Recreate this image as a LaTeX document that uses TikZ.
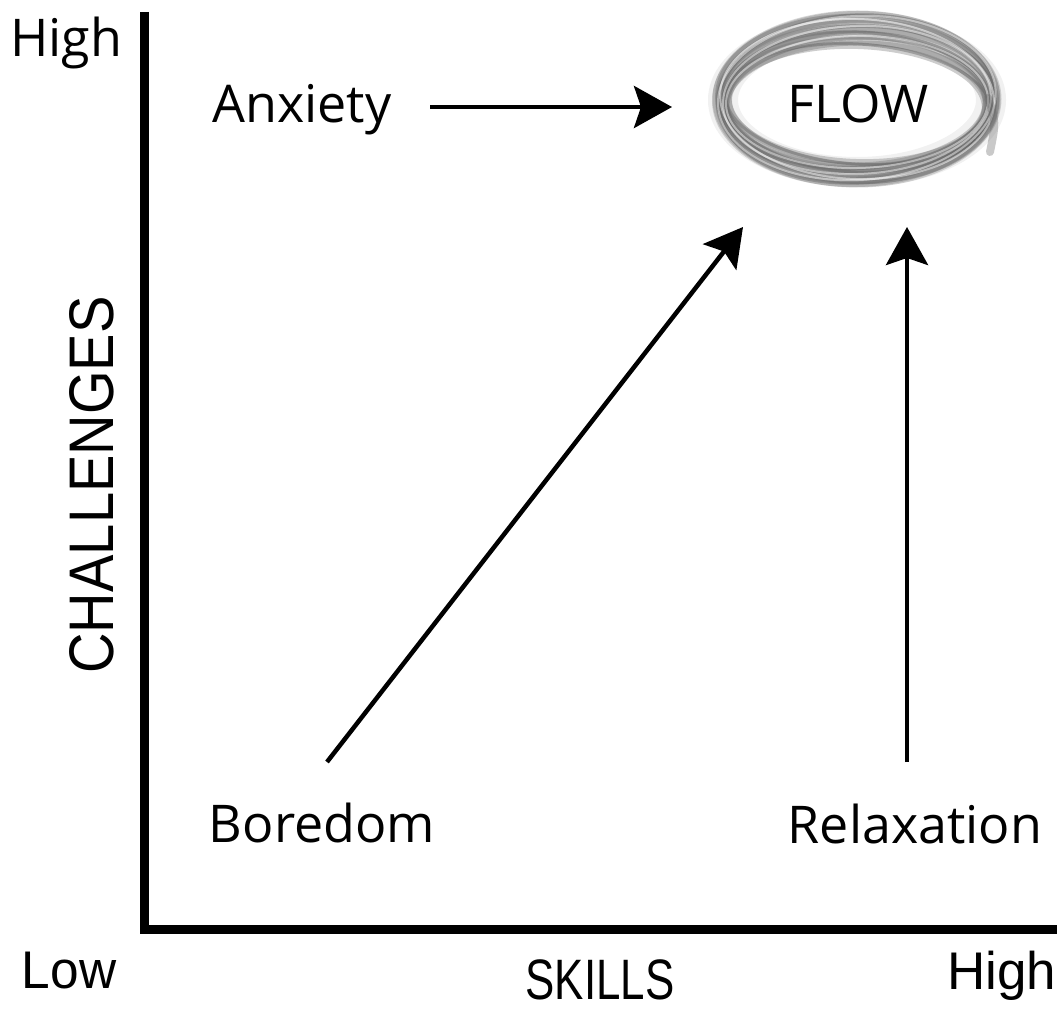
\documentclass[tikz,border=0pt]{standalone}
\usepackage{fontspec}
\setmainfont{Open Sans}
\newfontfamily\axisfont{Liberation Sans}
\usetikzlibrary{arrows.meta}

\tikzset{
  lbl/.style={inner sep=0pt, anchor=base, font=\fontsize{52}{60}\selectfont},
  axlbl/.style={inner sep=0pt, anchor=base},
  axisline/.style={line width=9pt, line join=miter, line cap=butt},
  move/.style={line width=4.5pt, line cap=butt,
    -{Stealth[length=38pt, width=42pt, inset=7pt]}},
  brush/.style={draw=black!60, line cap=round},
}

\begin{document}
\begin{tikzpicture}[x=1pt, y=-1pt]
  \useasboundingbox (0,0) rectangle (1057,1011);
  \fill[white] (0,0) rectangle (1057,1011);

  % axes
  \coordinate (ytop) at (144,12);
  \coordinate (orig) at (144,929);
  \coordinate (xend) at (1057,929);
  \draw[axisline] (ytop) -- (orig) -- (xend);

  % axis labels
  \node[lbl] (hiY) at (66,57) {High};
  \node[axlbl, font=\axisfont\fontsize{53}{60}\selectfont] (lowO) at (69,988) {\scalebox{0.97}[1]{Low}};
  \node[axlbl, anchor=base west, font=\axisfont\fontsize{53}{60}\selectfont] (hiX) at (947,989) {High};
  \node[axlbl, font=\axisfont\fontsize{57}{64}\selectfont] (skills) at (600,999) {\scalebox{0.77}[1]{SKILLS}};
  \node[axlbl, rotate=90, font=\axisfont\fontsize{63}{70}\selectfont] (chall) at (113,485) {\scalebox{0.89}[1]{CHALLENGES}};

  % brushed ring around FLOW: soft haze, then many thin overlapping strokes
  \draw[black!45, opacity=0.12, line width=30pt] (857,100) ellipse [x radius=134pt, y radius=72pt];
  \foreach \rx/\ry/\rot/\dx/\dy/\w/\op in {
      128/58/-2/0/3/6/0.32,  129/61/1/-1/3/5/0.32,  130/63/-3/1/2/7/0.26,
      131/65/2/0/2/4/0.40,   132/67/0/-2/1/8/0.26,  133/69/-1/1/1/5/0.35,
      134/71/3/0/0/6/0.32,   135/73/-2/-1/0/7/0.26, 136/75/1/2/0/4/0.40,
      137/77/-1/0/-1/6/0.30, 138/79/2/-1/-1/5/0.30, 139/81/0/1/-1/7/0.26,
      140/83/-2/0/-2/4/0.35, 141/85/1/-1/-2/6/0.26, 142/86/0/0/-2/5/0.26,
      133/60/-4/2/3/3/0.45,  138/84/3/0/-2/3/0.45,  131/70/-3/0/1/3/0.40}
  {
    \draw[brush, line width=\w pt, opacity=\op, rotate around={\rot:(857,101)}]
      ({857+\dx},{101+\dy}) ellipse [x radius=\rx pt, y radius=\ry pt];
  }
  % pale streaks left by the dry brush
  \foreach \rx/\ry/\rot/\dy in {134/74/2/-1, 137/80/-2/-2, 131/66/1/1, 139/82/3/-3}
  {
    \draw[white, line width=2pt, opacity=0.45, rotate around={\rot:(857,101)}]
      (857,{101+\dy}) ellipse [x radius=\rx pt, y radius=\ry pt];
  }
  % overlapping stroke end on the right side
  \draw[brush, line width=8pt, opacity=0.35] (988,98) .. controls (996,122) .. (990,152);

  \node[lbl] (flow) at (858,123) {FLOW};

  % states
  \node[lbl] (anx) at (302,123) {Anxiety};
  \node[lbl] (bore) at (322,842) {Boredom};
  \node[lbl] (relax) at (915,843) {Relaxation};

  % moves toward flow
  \coordinate (anxS) at (430,107);
  \coordinate (anxE) at (672,107);
  \coordinate (boreS) at (327,762);
  \coordinate (boreE) at (743,227);
  \coordinate (relS) at (907,762);
  \coordinate (relE) at (907,227);
  \draw[move] (anxS) -- (anxE);
  \draw[move] (boreS) -- (boreE);
  \draw[move] (relS) -- (relE);
\end{tikzpicture}
\end{document}
